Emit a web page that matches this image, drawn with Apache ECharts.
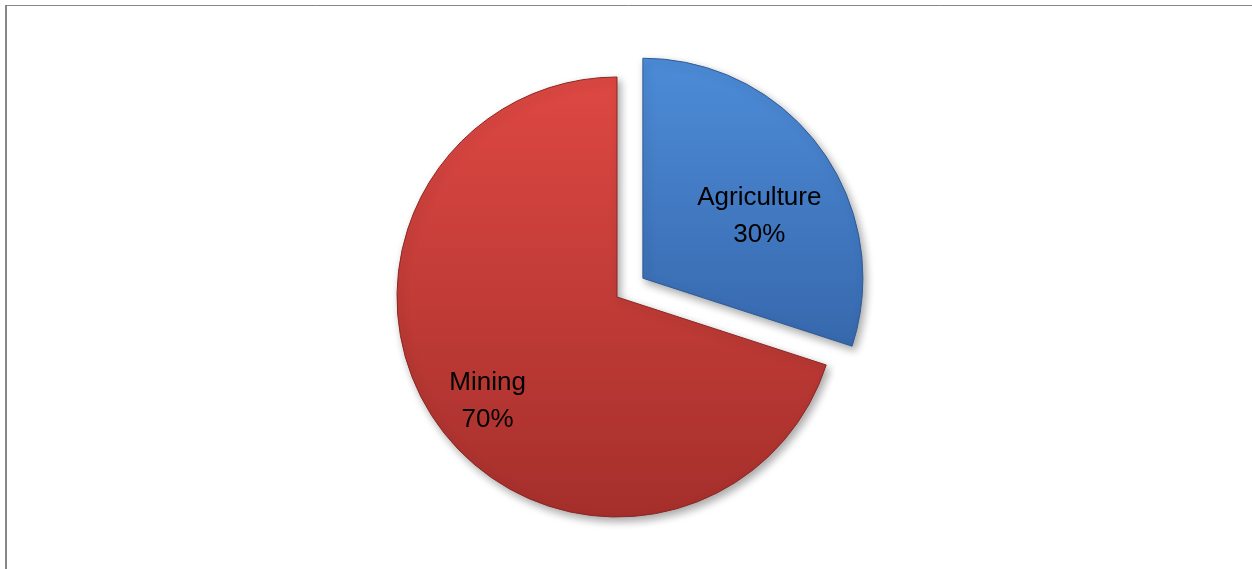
<!DOCTYPE html>
<html>
<head>
<meta charset="utf-8">
<script src="https://cdn.jsdelivr.net/npm/echarts@6/dist/echarts.min.js"></script>
<style>
html,body{margin:0;padding:0;background:#fff;}
#chart{width:1252px;height:569px;}
</style>
</head>
<body>
<div id="chart"></div>
<script>
var categories = ['Agriculture', 'Mining'];
var values = [30, 70];
var exploded = [true, false];

var palette = [
  {top: '#4d8cd8', bottom: '#3768ad', border: '#2e5a96'},
  {top: '#de4843', bottom: '#a52f2b', border: '#8a2724'}
];
var labelShift = [[25, 5], [-38, 38]];

var chart = echarts.init(document.getElementById('chart'));
chart.setOption({
  animation: false,
  graphic: [
    {type: 'line', shape: {x1: 5, y1: 5.5, x2: 1252, y2: 5.5}, style: {stroke: '#878787', lineWidth: 1}},
    {type: 'line', shape: {x1: 6, y1: 5, x2: 6, y2: 569}, style: {stroke: '#878787', lineWidth: 2}}
  ],
  series: [{
    type: 'pie',
    center: [617, 297],
    radius: 220,
    startAngle: 90,
    clockwise: true,
    selectedMode: 'multiple',
    selectedOffset: 32,
    avoidLabelOverlap: false,
    emphasis: {disabled: true},
    label: {
      show: true,
      position: 'inside',
      formatter: function (p) { return p.name + '\n' + p.value + '%'; },
      fontFamily: 'Liberation Sans, Arial, sans-serif',
      fontSize: 26,
      lineHeight: 37,
      color: '#000'
    },
    labelLine: {show: false},
    labelLayout: function (p) {
      return {dx: labelShift[p.dataIndex][0], dy: labelShift[p.dataIndex][1]};
    },
    data: categories.map(function (c, i) {
      return {
        name: c,
        value: values[i],
        selected: exploded[i],
        itemStyle: {
          color: new echarts.graphic.LinearGradient(0, 0, 0, 1, [
            {offset: 0, color: palette[i].top},
            {offset: 1, color: palette[i].bottom}
          ]),
          borderColor: palette[i].border,
          borderWidth: 1,
          shadowBlur: 8,
          shadowColor: 'rgba(0,0,0,0.35)',
          shadowOffsetX: 3,
          shadowOffsetY: 4
        },
        select: {
          itemStyle: {
            color: new echarts.graphic.LinearGradient(0, 0, 0, 1, [
              {offset: 0, color: palette[i].top},
              {offset: 1, color: palette[i].bottom}
            ]),
            borderColor: palette[i].border,
            borderWidth: 1
          },
          label: {color: '#000'}
        }
      };
    })
  }]
});
</script>
</body>
</html>
